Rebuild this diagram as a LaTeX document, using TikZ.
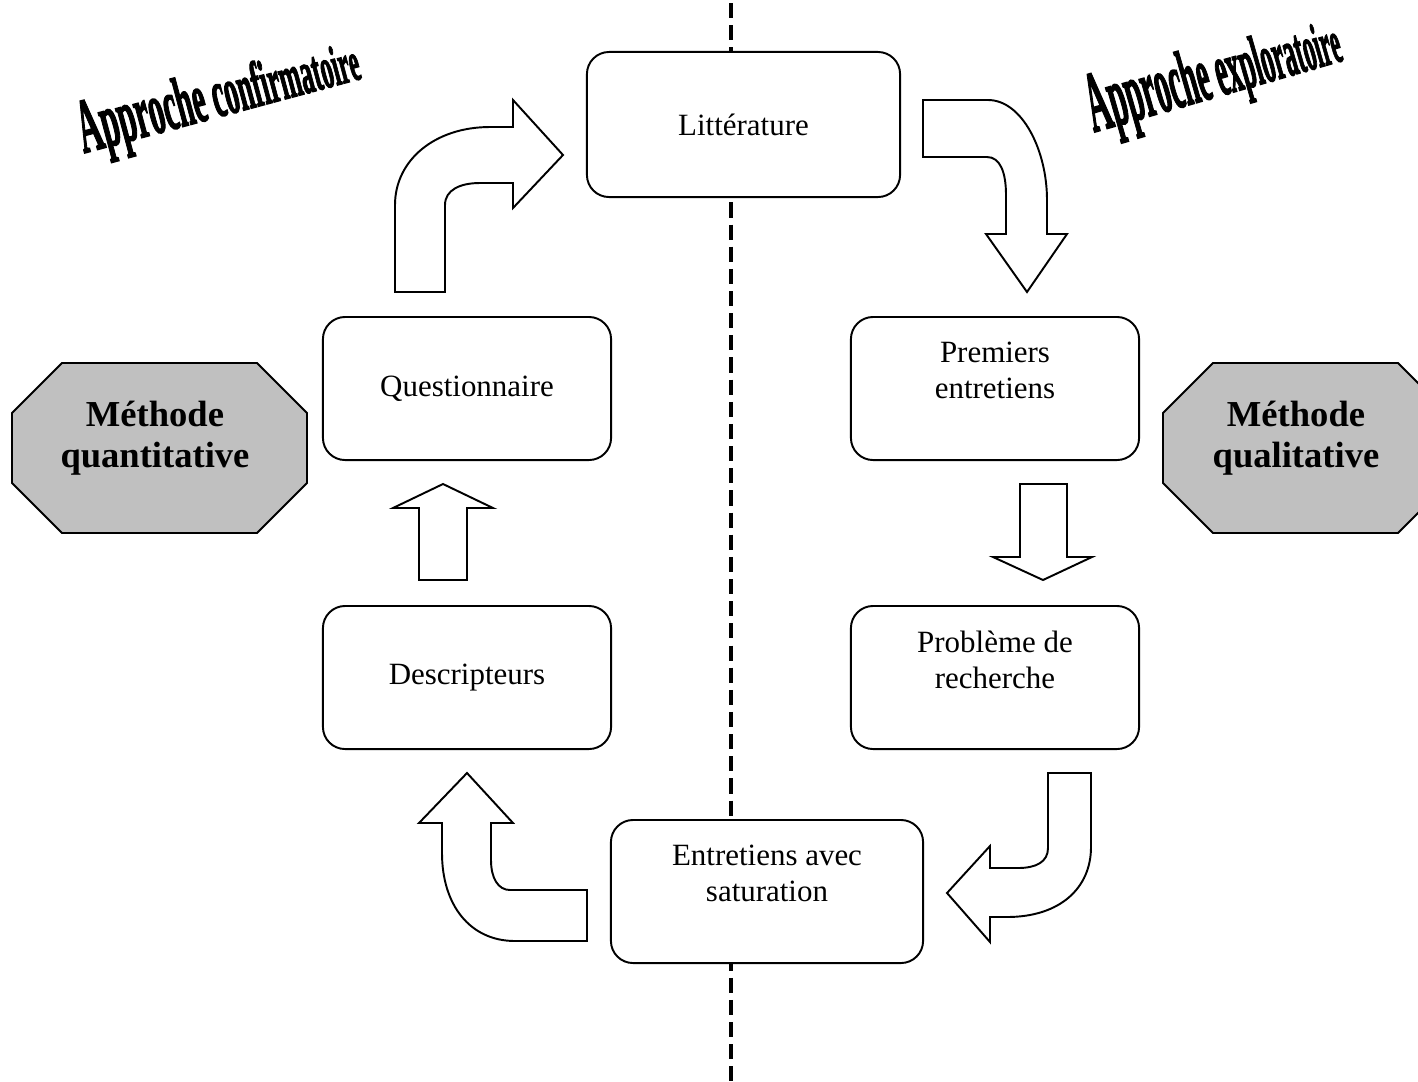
\documentclass[tikz,border=0pt]{standalone}
\usepackage{fontspec}
\setmainfont{Liberation Serif}
\newfontfamily\wafont{Liberation Serif Bold}[FakeBold=2.5]
\usepackage{graphicx}
\begin{document}
\begin{tikzpicture}[x=0.01cm,y=-0.01cm,
  box/.style={draw, line width=0.55pt, rounded corners=6.3pt, fill=white,
    minimum width=2.88cm, minimum height=1.43cm, inner sep=0pt,
    font=\fontsize{8.8}{10.2}\selectfont, align=center},
  lbl/.style={inner sep=0pt, align=center, font=\fontsize{8.8}{10.2}\selectfont},
  blk/.style={draw, line width=0.55pt, fill=white, line join=miter},
  oct/.style={draw, line width=0.55pt, fill={rgb,255:red,192;green,192;blue,192}},
  octtxt/.style={inner sep=0pt, align=center, font=\bfseries\fontsize{10.4}{11.6}\selectfont},
  divider/.style={line width=1.1pt, dash pattern=on 4.3pt off 2pt},
  wal/.style={inner sep=0pt, outer sep=0pt, anchor=base west, rotate=15,
    font=\wafont\fontsize{21.5}{21.5}\selectfont},
  war/.style={inner sep=0pt, outer sep=0pt, anchor=base west, rotate=16,
    font=\wafont\fontsize{24.5}{24.5}\selectfont}]
\clip (0,0) rectangle (1418,1081);
\fill[white] (0,0) rectangle (1418,1081);

% dashed divider
\draw[divider] (731,3) -- (731,1081);

% boxes
\node[box, minimum width=3.13cm, minimum height=1.45cm] (lit) at (743.5,124.5) {Littérature};
\node[box] (ques) at (467,388.5) {Questionnaire};
\node[box] (desc) at (467,677.5) {Descripteurs};
\node[box] (prem) at (995,388.5) {};
\node[lbl] (premt) at ([yshift=0.18cm]prem.center) {Premiers\\entretiens};
\node[box] (prob) at (995,677.5) {};
\node[lbl] (probt) at ([yshift=0.18cm]prob.center) {Problème de\\recherche};
\node[box, minimum width=3.12cm] (entr) at (767,891.5) {};
\node[lbl] (entrt) at ([yshift=0.18cm]entr.center) {Entretiens avec\\saturation};

% block arrows
% Questionnaire -> Litterature (up then right)
\draw[blk] (395,292) -- (395,205) .. controls (395,160) and (435,127) .. (490,127)
  -- (513,127) -- (513,100) -- (563,155) -- (513,208) -- (513,183) -- (480,183)
  .. controls (460,183) and (445,190) .. (445,205) -- (445,292) -- cycle;
% Litterature -> Premiers entretiens (right then down)
\draw[blk] (923,100) -- (988,100) .. controls (1022,100) and (1047,150) .. (1047,200)
  -- (1047,234) -- (1067,234) -- (1027,292) -- (986,234) -- (1006,234) -- (1006,195)
  .. controls (1006,172) and (1000,157) .. (987,157) -- (923,157) -- cycle;
% Premiers -> Probleme (down)
\draw[blk] (1020,484) -- (1067,484) -- (1067,557) -- (1092,557) -- (1043,580)
  -- (993,557) -- (1020,557) -- cycle;
% Descripteurs -> Questionnaire (up)
\draw[blk] (419,580) -- (467,580) -- (467,508) -- (493,508) -- (443,484)
  -- (393,508) -- (419,508) -- cycle;
% Probleme -> Entretiens (down then left)
\draw[blk] (1048,773) -- (1091,773) -- (1091,847) .. controls (1091,888) and (1060,917) .. (1007,917)
  -- (990,917) -- (990,942) -- (947,893) -- (990,846) -- (990,868) -- (1018,868)
  .. controls (1036,868) and (1048,862) .. (1048,848) -- cycle;
% Entretiens -> Descripteurs (left then up)
\draw[blk] (587,890) -- (510,890) .. controls (498,890) and (491,878) .. (491,860)
  -- (491,823) -- (513,823) -- (467,773) -- (419,823) -- (442,823) -- (442,853)
  .. controls (442,905) and (470,941) .. (515,941) -- (587,941) -- cycle;

% octagons
\draw[oct] (62,363) -- (257,363) -- (307,413) -- (307,483) -- (257,533) -- (62,533)
  -- (12,483) -- (12,413) -- cycle;
\node[octtxt] (quant) at (155,438) {Méthode\\quantitative};
\draw[oct] (1213,363) -- (1398,363) -- (1448,413) -- (1448,483) -- (1398,533) -- (1213,533)
  -- (1163,483) -- (1163,413) -- cycle;
\node[octtxt] (qual) at (1296,438) {Méthode\\qualitative};

% WordArt titles
\foreach \ch [count=\i] in {A,p,p,r,o,c,h,e,~,c,o,n,f,i,r,m,a,t,o,i,r,e}{
  \pgfmathsetmacro\sy{1.02-0.3*(\i-1)/21}
  \pgfmathsetmacro\sx{0.42*\sy}
  \pgfmathtruncatemacro\j{\i-1}
  \ifnum\i=1
    \node[wal] (cf\i) at (84,153) {\scalebox{\sx}[\sy]{\ch}};
  \else
    \node[wal] (cf\i) at (cf\j.base east) {\scalebox{\sx}[\sy]{\ch}};
  \fi
}
\foreach \ch [count=\i] in {A,p,p,r,o,c,h,e,~,e,x,p,l,o,r,a,t,o,i,r,e}{
  \pgfmathsetmacro\sy{1-0.3*(\i-1)/20}
  \pgfmathsetmacro\sx{0.363*\sy}
  \pgfmathtruncatemacro\j{\i-1}
  \ifnum\i=1
    \node[war] (ex\i) at (1094,132) {\scalebox{\sx}[\sy]{\ch}};
  \else
    \node[war] (ex\i) at (ex\j.base east) {\scalebox{\sx}[\sy]{\ch}};
  \fi
}
\end{tikzpicture}
\end{document}
